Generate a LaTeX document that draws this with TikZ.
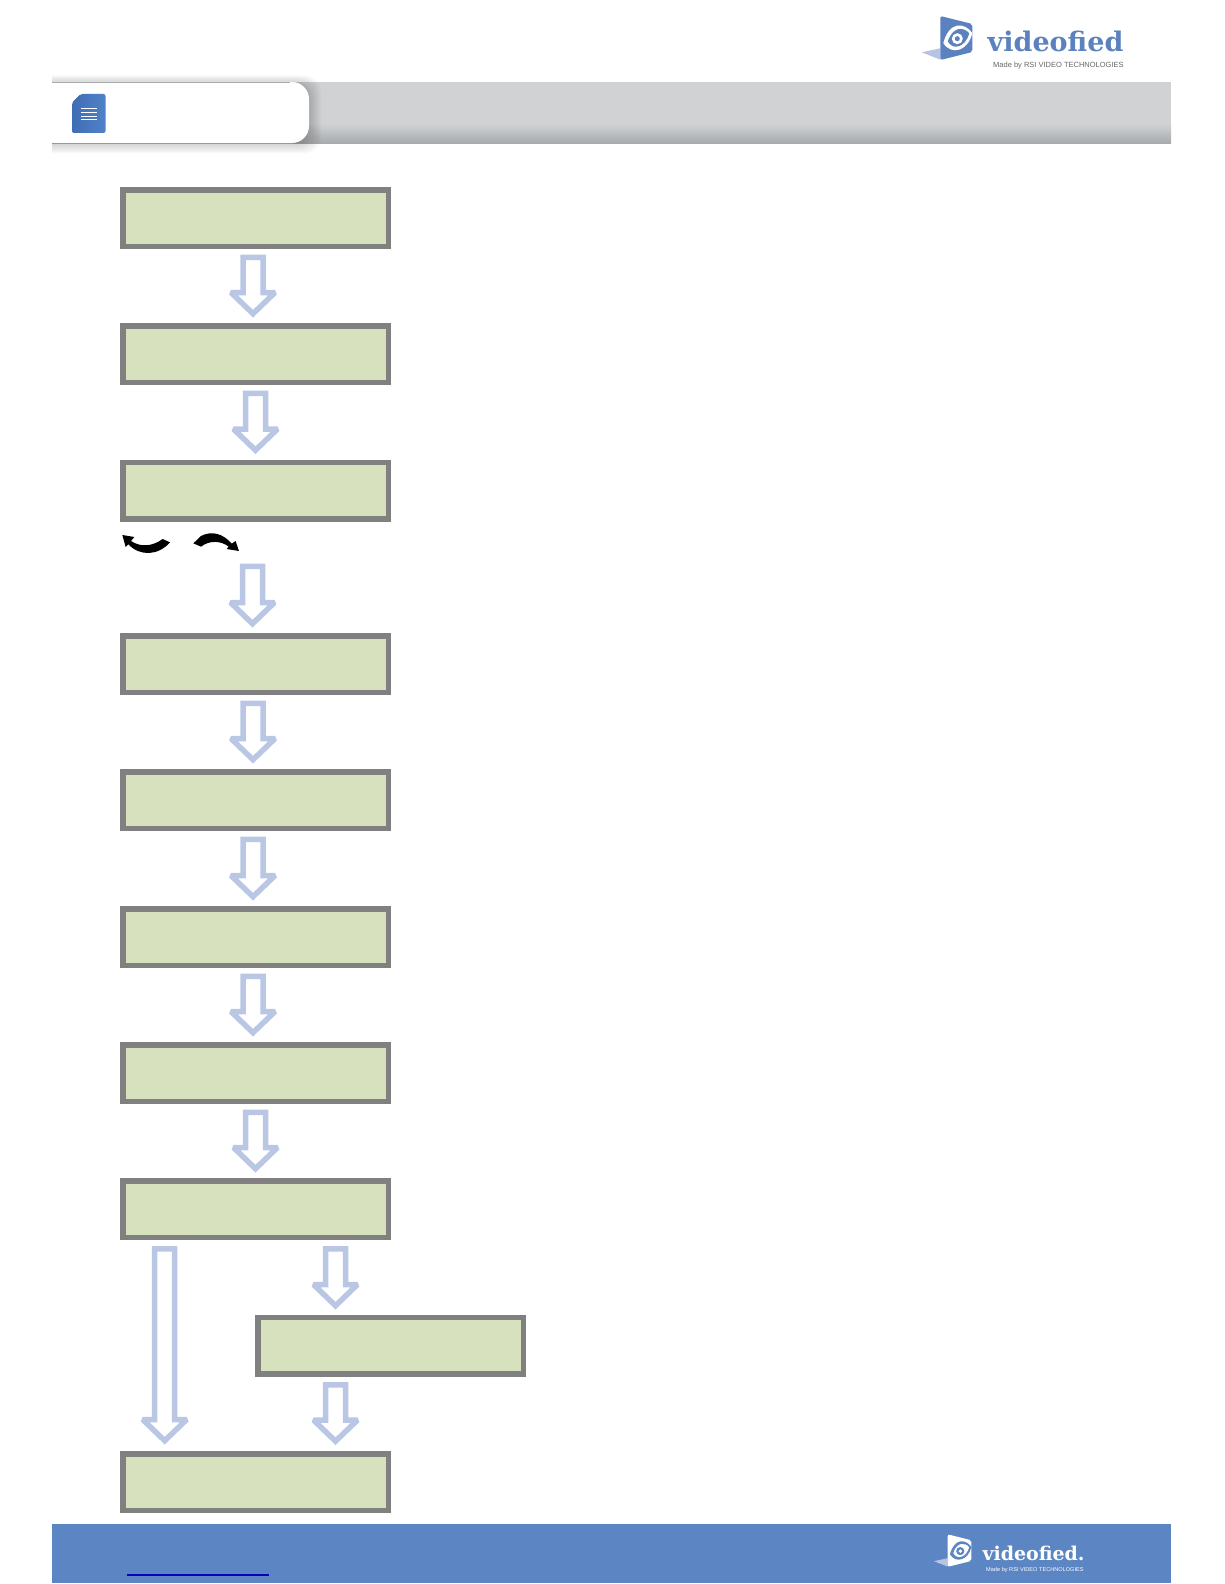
\documentclass[tikz,border=0pt]{standalone}
\usepackage{xcolor}
\usepackage{fontspec}
\usetikzlibrary{calc}
\newfontfamily\logoserif{DejaVu Serif}
\newfontfamily\logosans{Liberation Sans}
\definecolor{kutuYesil}{HTML}{D8E1BD}
\definecolor{kutuGri}{HTML}{808080}
\definecolor{okMavi}{HTML}{B9C7E4}
\definecolor{logoMavi}{HTML}{5B82BE}
\definecolor{logoAcik}{HTML}{B4C4E2}
\definecolor{altMavi}{HTML}{5B86C3}
\definecolor{bantGri}{HTML}{D0D2D3}
\definecolor{bantKoyu}{HTML}{A8ABAD}
\definecolor{belgeMavi}{HTML}{3F6DB5}
\definecolor{belgeAcik}{HTML}{5082C8}
\tikzset{
  flowbox/.style={draw=kutuGri,fill=kutuYesil,line width=5.5pt,inner sep=0pt,
    minimum width=265.5pt,minimum height=56.5pt},
  hollowarrow/.style={draw=okMavi,fill=white,line width=5.5pt,miter limit=2,
    to path={let \p1=(\tikztostart),\p2=(\tikztotarget) in
      (\x1-10pt,\y1-2.75pt) -- (\x1+10pt,\y1-2.75pt) -- (\x1+10pt,\y2+25pt)
      -- (\x1+22pt,\y2+25pt) -- (\x1,\y2+3.8pt) -- (\x1-22pt,\y2+25pt)
      -- (\x1-10pt,\y2+25pt) -- cycle}},
  pics/logomark/.style args={#1/#2/#3}{code={
    \fill[#3] (-18.7,36.3) -- (0,32.3) -- (0,43.7) -- cycle;
    \fill[#1,rounded corners=2pt] (0,0) -- (32,8) -- (32,36) -- (0,44) -- cycle;
    \fill[#2] (3,27) .. controls (9,5) and (24,6) .. (32,17)
      .. controls (28,35) and (11,40) .. cycle;
    \fill[#1] (7.5,25.5) .. controls (12,11) and (23,10) .. (29,17.5)
      .. controls (25,31) and (13,35) .. cycle;
    \fill[#2] (17,22.7) circle (5.5);
    \fill[#1] (17,22.7) circle (2.5);
  }}
}
\begin{document}
\begin{tikzpicture}[x=1pt,y=-1pt]
\useasboundingbox (0,0) rectangle (1224,1584);
% ust bant
\fill[bantGri] (52,82) rectangle (1171,124);
\shade[top color=bantGri,bottom color=bantKoyu] (52,123.5) rectangle (1171,143);
% sekme golgesi
\begin{scope}
\clip (52,60) rectangle (345,175);
\foreach \g in {1,...,8}
  \fill[black,opacity=0.022,rounded corners=17pt] (30,{82+1.5-\g}) rectangle ({309+1.5*\g},{143+1.3*\g});
\end{scope}
\fill[white] (52,82) [rounded corners=17pt] -- (309,82) -- (309,143) [sharp corners] -- (52,143) -- cycle;
\draw[bantKoyu,line width=0.6pt] (52,82) -- (290,82);
% belge simgesi
\shade[left color=belgeMavi,right color=belgeAcik,rounded corners=2pt]
  (80.5,94) -- (105.5,94) -- (105.5,133) -- (72,133) -- (72,102.5) -- cycle;
\fill[belgeMavi] (74.5,100.5) -- (79.5,95.5) -- (79.5,100.5) -- cycle;
\foreach \y in {108.3,112.5,116,119.5}
  \draw[white,line width=0.8pt] (81,\y) -- (97,\y);
% ust logo
\pic at (940.3,16) {logomark={logoMavi/white/logoAcik}};
\node[anchor=base west,inner sep=0pt,text=logoMavi,font={\logoserif\bfseries\fontsize{27}{27}\selectfont}] (logotop) at (987.5,52) {videofied};
\node[anchor=base west,inner sep=0pt,text=black!60,font={\logosans\fontsize{7.5}{7.5}\selectfont}] (tagtop) at (993,67.5) {Made by RSI VIDEO TECHNOLOGIES};
% kutular
\foreach \y [count=\i] in {218,354,490.5,664,800,937,1073,1209}
  \node[flowbox] (s\i) at (255.5,\y) {};
\node[flowbox] (side) at (390.5,1345.5) {};
\node[flowbox] (last) at (255.5,1482) {};
% oklar
\foreach \a/\b/\d in {s1/s2/-2.5,s2/s3/0,s4/s5/-2.5,s5/s6/-2.5,s6/s7/-2.5,s7/s8/0}
  \draw[hollowarrow] ([shift={(\d,5.5)}]\a.south) to ([shift={(\d,-5.5)}]\b.north);
\draw[hollowarrow] ([shift={(-3,42)}]s3.south) to ([shift={(-3,-5.5)}]s4.north);
\draw[hollowarrow] ([shift={(-90.8,6)}]s8.south) to ([shift={(-90.8,-6.5)}]last.north);
\draw[hollowarrow] ([shift={(80,6)}]s8.south) to ([shift={(-55,-5)}]side.north);
\draw[hollowarrow] ([shift={(-55,5.5)}]side.south) to ([shift={(80,-6)}]last.north);
% kavisli oklar
\begin{scope}[shift={(115,525)},scale=1/3]
\fill[black] (22,30) -- (58,36) -- (48,48) .. controls (75,66) and (110,66) .. (143,42)
  -- (165,52) .. controls (130,92) and (75,95) .. (40,58) -- (32,66) -- cycle;
\fill[black] (235,55) -- (258,33) .. controls (290,16) and (325,26) .. (350,56)
  -- (362,48) -- (372,78) -- (335,72) -- (341,65) .. controls (320,48) and (285,44) .. (258,65) -- cycle;
\end{scope}
% alt bant
\fill[altMavi] (52,1524) rectangle (1171,1583);
\draw[blue!75!black,line width=1.3pt] (127,1575) -- (269,1575);
\pic[scale=0.74] at (947.7,1534.3) {logomark={white/altMavi/logoAcik}};
\node[anchor=base west,inner sep=0pt,text=white,font={\logoserif\bfseries\fontsize{19}{19}\selectfont}] (logobot) at (982.3,1560.5) {videofied.};
\node[anchor=base west,inner sep=0pt,text=white,font={\logosans\fontsize{5.6}{5.6}\selectfont}] (tagbot) at (986,1571) {Made by RSI VIDEO TECHNOLOGIES};
\end{tikzpicture}
\end{document}
